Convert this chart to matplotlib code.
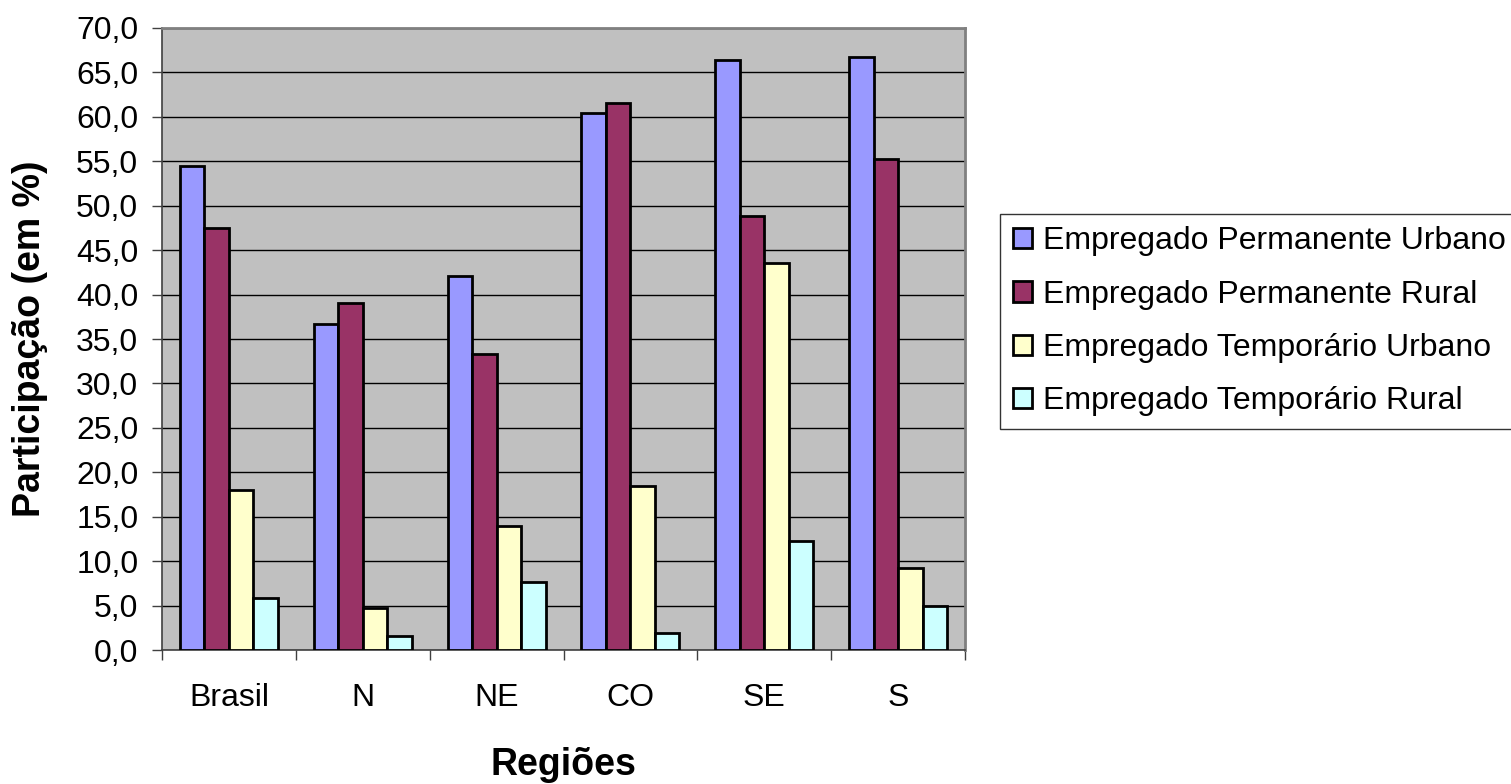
import numpy as np
import matplotlib.pyplot as plt
from matplotlib.ticker import FuncFormatter, FixedLocator

plt.rcParams['font.family'] = ['Liberation Sans', 'DejaVu Sans']

regioes = ['Brasil', 'N', 'NE', 'CO', 'SE', 'S']
series_names = ['Empregado Permanente Urbano', 'Empregado Permanente Rural',
                'Empregado Temporário Urbano', 'Empregado Temporário Rural']
perm_urbano = [54.5, 36.7, 42.1, 60.4, 66.4, 66.7]
perm_rural = [47.5, 39.0, 33.3, 61.6, 48.8, 55.3]
temp_urbano = [18.0, 4.7, 14.0, 18.5, 43.5, 9.2]
temp_rural = [5.8, 1.6, 7.6, 1.9, 12.3, 5.0]
colors = ['#9999FF', '#993366', '#FFFFCC', '#CCFFFF']

fig = plt.figure(figsize=(15.11, 7.84), dpi=100)
ax = fig.add_axes([0.1072, 0.1709, 0.5315, 0.7934])
ax.set_facecolor('#C0C0C0')

x = np.arange(len(regioes))
w = 0.183
all_series = [perm_urbano, perm_rural, temp_urbano, temp_rural]
for i, (vals, name, c) in enumerate(zip(all_series, series_names, colors)):
    ax.bar(x + (i - 1.5) * w, vals, w, color=c, edgecolor='black', linewidth=2,
           label=name, zorder=3)

ax.set_xlim(-0.5, len(regioes) - 0.5)
ax.set_ylim(0, 70)
ax.set_yticks(np.arange(0, 71, 5))
ax.yaxis.set_major_formatter(FuncFormatter(lambda v, p: ('%.1f' % v).replace('.', ',')))
ax.yaxis.grid(True, color='black', linewidth=1.0, zorder=1)
ax.set_axisbelow(True)

# ticks at category boundaries, labels at centers
ax.xaxis.set_major_locator(FixedLocator(np.arange(-0.5, len(regioes), 1.0)))
ax.xaxis.set_major_formatter(FuncFormatter(lambda v, p: ''))
ax.set_xticks(x, minor=True)
ax.set_xticklabels(regioes, minor=True)
ax.tick_params(axis='x', which='minor', length=0, pad=24, labelsize=23)
ax.tick_params(axis='x', which='major', length=7, width=1, color='#404040')
ax.tick_params(axis='y', length=7, width=1, labelsize=23, pad=10, color='#404040')

for s in ['top', 'right']:
    ax.spines[s].set_color('#808080')
    ax.spines[s].set_linewidth(2)
for s in ['left', 'bottom']:
    ax.spines[s].set_color('#404040')
    ax.spines[s].set_linewidth(1.2)

ax.set_ylabel('Participação (em %)', fontsize=27, fontweight='bold', labelpad=20)
ax.set_xlabel('Regiões', fontsize=27, fontweight='bold', labelpad=24)

leg = fig.legend(loc='center left', bbox_to_anchor=(0.6618, 0.590), fontsize=23,
                 frameon=True, fancybox=False, edgecolor='black', facecolor='white',
                 handlelength=0.6, handleheight=0.6, handletextpad=0.34,
                 labelspacing=0.73, borderpad=0.4, borderaxespad=0)
leg.get_frame().set_linewidth(1.0)

fig.savefig('out.png', dpi=100)
